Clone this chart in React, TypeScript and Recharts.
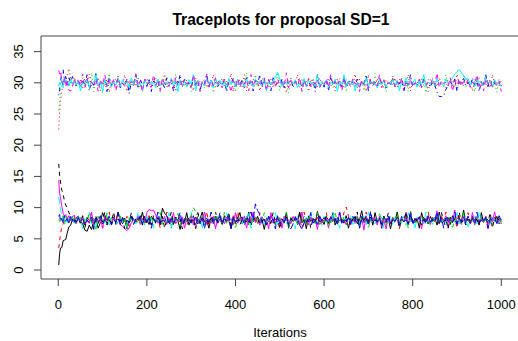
import React from 'react';
import { LineChart, Line, XAxis, YAxis, ReferenceArea } from 'recharts';

const iterations = [
  1, 3, 5, 8, 11, 14, 17, 20, 24, 28, 32, 36, 40,
  45, 50, 55, 60, 65, 70, 75, 80, 85, 90, 95, 100, 105, 110, 115, 120,
  125, 130, 135, 140, 145, 150, 155, 160, 165, 170, 175, 180, 185, 190, 195, 200,
  205, 210, 215, 220, 225, 230, 235, 240, 245, 250, 255, 260, 265, 270, 275, 280,
  285, 290, 295, 300, 305, 310, 315, 320, 325, 330, 335, 340, 345, 350, 355, 360,
  365, 370, 375, 380, 385, 390, 395, 400, 405, 410, 415, 420, 425, 430, 435, 440,
  445, 450, 455, 460, 465, 470, 475, 480, 485, 490, 495, 500, 505, 510, 515, 520,
  525, 530, 535, 540, 545, 550, 555, 560, 565, 570, 575, 580, 585, 590, 595, 600,
  605, 610, 615, 620, 625, 630, 635, 640, 645, 650, 655, 660, 665, 670, 675, 680,
  685, 690, 695, 700, 705, 710, 715, 720, 725, 730, 735, 740, 745, 750, 755, 760,
  765, 770, 775, 780, 785, 790, 795, 800, 805, 810, 815, 820, 825, 830, 835, 840,
  845, 850, 855, 860, 865, 870, 875, 880, 885, 890, 895, 900, 905, 910, 915, 920,
  925, 930, 935, 940, 945, 950, 955, 960, 965, 970, 975, 980, 985, 990, 995, 1000,
];

const chain1 = [
  0.8, 2.6, 3.5, 3.6, 4.7, 4.8, 4.9, 5.9, 6.9, 7.2, 8.1, 7.6, 8.3,
  8.6, 7.9, 7.4, 6.4, 6.2, 7.2, 6.5, 7.8, 8.4, 6.7, 7.6, 9.2, 8.2, 7.5, 8.0, 7.3,
  8.5, 7.7, 9.3, 8.1, 7.4, 8.3, 6.6, 7.9, 8.6, 8.2, 7.6, 8.4, 7.8, 9.3, 7.5, 8.1,
  7.3, 8.6, 8.0, 7.7, 8.4, 7.2, 9.9, 9.1, 8.7, 7.8, 8.2, 7.4, 8.5, 7.9, 6.5, 8.3,
  7.6, 9.2, 7.2, 8.1, 7.9, 8.5, 7.4, 8.2, 9.3, 7.7, 8.0, 6.7, 8.4, 7.8, 8.6, 7.5,
  8.2, 7.3, 8.7, 7.9, 8.1, 6.6, 8.5, 7.6, 8.3, 9.2, 7.4, 8.0, 7.7, 9.3, 7.2, 8.4,
  7.8, 8.6, 7.5, 8.1, 6.5, 8.3, 7.7, 8.7, 8.0, 7.3, 8.5, 7.9, 8.2, 7.6, 9.2, 6.7,
  8.4, 7.9, 8.1, 7.4, 9.3, 7.6, 8.2, 6.6, 8.6, 7.8, 8.3, 7.5, 9.4, 7.7, 8.1, 7.3,
  8.5, 8.0, 7.6, 9.2, 7.2, 8.4, 7.9, 8.2, 7.5, 8.7, 6.7, 8.3, 7.8, 8.6, 7.4, 8.0,
  9.5, 7.6, 8.3, 7.9, 8.5, 7.2, 9.2, 7.7, 8.1, 7.4, 8.6, 7.9, 8.2, 6.6, 8.4, 7.8,
  9.3, 7.5, 8.1, 7.7, 8.5, 7.3, 8.7, 8.0, 7.6, 8.3, 6.7, 9.2, 7.9, 8.2, 7.4, 8.6,
  7.8, 8.4, 7.2, 9.3, 7.6, 8.1, 7.9, 8.5, 7.3, 8.7, 8.0, 7.5, 8.3, 7.8, 9.6, 7.6,
  8.2, 7.4, 8.6, 7.9, 8.1, 7.2, 9.2, 7.7, 8.4, 8.0, 7.5, 8.3, 7.8, 8.6, 7.4, 8.1,
];
const chain2 = [
  3.5, 4.6, 5.8, 6.9, 7.4, 8.2, 7.8, 8.5, 7.6, 8.3, 7.9, 8.7, 7.4,
  8.1, 7.7, 8.6, 7.2, 8.4, 7.9, 9.2, 7.3, 8.0, 7.6, 8.5, 6.7, 8.2, 7.8, 9.3, 7.5,
  8.3, 7.8, 9.3, 7.4, 8.2, 7.7, 8.6, 6.6, 8.4, 7.9, 8.1, 7.5, 8.7, 7.2, 8.3, 7.6,
  8.7, 7.3, 8.2, 7.8, 8.5, 6.7, 8.0, 7.6, 9.3, 7.4, 8.3, 7.9, 8.1, 7.7, 8.6, 7.2,
  8.6, 7.2, 8.1, 7.7, 8.4, 6.6, 9.2, 7.5, 8.2, 7.9, 9.4, 7.3, 8.0, 7.6, 8.5, 7.8,
  8.0, 7.6, 8.5, 7.8, 8.3, 6.7, 8.7, 7.4, 9.4, 7.9, 8.2, 7.6, 8.4, 7.3, 9.2, 7.7,
  8.4, 7.2, 9.2, 7.7, 8.1, 7.5, 8.6, 7.3, 8.0, 7.8, 8.5, 6.7, 8.3, 7.9, 8.2, 7.4,
  8.3, 7.9, 8.6, 7.4, 8.2, 6.6, 9.3, 7.6, 8.4, 7.7, 8.1, 7.5, 8.7, 7.2, 8.0, 7.8,
  9.2, 7.2, 8.5, 7.9, 8.1, 7.4, 8.2, 7.8, 9.2, 10.1, 8.6, 7.3, 8.0, 7.7, 8.4, 7.5,
  8.2, 7.6, 9.3, 7.3, 8.4, 7.8, 8.0, 7.5, 8.6, 6.7, 8.3, 7.9, 8.7, 7.4, 8.1, 7.7,
  8.5, 6.6, 8.2, 7.8, 9.2, 7.4, 8.3, 7.6, 8.0, 7.9, 8.6, 7.2, 8.4, 7.7, 9.3, 7.5,
  8.1, 7.8, 8.5, 7.3, 8.7, 7.6, 9.3, 7.4, 8.2, 7.9, 8.4, 6.7, 8.6, 7.7, 8.0, 7.5,
  9.2, 7.2, 8.5, 7.9, 8.3, 7.4, 8.2, 7.8, 8.6, 7.3, 8.0, 7.7, 8.4, 7.6, 8.1, 7.9,
];
const chain3 = [
  25.6, 27.2, 28.8, 29.6, 30.4, 29.8, 30.9, 29.4, 30.2, 31.0, 29.7, 30.5, 29.3,
  30.1, 29.5, 30.8, 29.2, 30.3, 29.8, 31.6, 28.6, 30.6, 29.6, 30.0, 28.4, 30.4, 29.7, 31.5, 29.3,
  30.4, 29.7, 31.3, 29.3, 30.2, 29.9, 30.7, 28.7, 30.5, 29.6, 31.5, 29.4, 30.0, 28.5, 30.6, 29.8,
  30.0, 29.8, 30.6, 29.2, 30.3, 28.5, 30.8, 29.5, 30.1, 29.7, 30.5, 29.3, 31.4, 29.6, 30.2, 29.4,
  30.7, 29.6, 30.2, 28.6, 31.3, 29.4, 30.4, 29.8, 30.0, 29.2, 30.6, 29.5, 30.3, 28.4, 30.8, 29.7,
  30.3, 29.9, 30.8, 28.7, 30.5, 29.7, 30.1, 28.5, 30.6, 29.4, 30.2, 29.8, 31.6, 29.5, 30.0, 29.3,
  31.3, 29.3, 30.4, 29.6, 30.0, 29.2, 30.7, 29.5, 30.3, 29.9, 31.4, 28.7, 30.5, 29.8, 30.2, 28.4,
  30.5, 29.7, 30.2, 29.4, 30.8, 28.6, 30.4, 29.8, 30.1, 29.3, 30.6, 29.6, 31.3, 29.2, 30.3, 29.5,
  30.0, 29.5, 31.3, 29.2, 30.3, 29.8, 30.7, 29.4, 30.2, 28.5, 30.5, 29.7, 30.1, 29.3, 30.8, 29.6,
  30.4, 28.7, 30.6, 29.8, 30.2, 29.5, 31.5, 29.3, 30.0, 29.7, 30.5, 28.6, 30.3, 29.6, 31.3, 29.4,
  30.2, 29.8, 30.7, 29.3, 30.4, 28.6, 30.8, 29.6, 30.1, 29.4, 30.5, 29.9, 30.3, 28.4, 30.6, 29.5,
  30.8, 29.2, 30.3, 29.7, 30.0, 29.4, 31.3, 29.5, 30.2, 29.8, 30.6, 28.7, 30.4, 29.6, 31.4, 29.3,
  30.1, 29.7, 30.5, 28.6, 30.7, 29.4, 30.2, 29.8, 31.3, 29.3, 30.4, 29.6, 30.0, 28.5, 30.6, 29.5,
];
const chain4 = [
  28.0, 28.9, 30.2, 31.5, 32.1, 30.4, 31.2, 29.6, 30.8, 29.9, 31.0, 30.3, 29.5,
  30.6, 29.3, 30.2, 29.8, 31.3, 28.7, 30.4, 29.6, 31.7, 29.4, 30.1, 29.7, 30.5, 28.6, 30.8, 29.5,
  30.3, 29.9, 30.6, 29.2, 30.0, 29.7, 30.4, 28.3, 30.2, 29.6, 31.3, 29.3, 30.5, 29.8, 30.1, 29.4,
  30.7, 28.6, 30.3, 29.9, 30.6, 29.5, 30.0, 29.2, 30.8, 29.7, 30.4, 28.7, 30.2, 29.8, 31.3, 29.3,
  30.6, 29.5, 30.0, 29.2, 30.8, 29.7, 30.4, 28.7, 30.2, 29.8, 31.3, 29.3, 30.5, 29.6, 30.1, 29.4,
  30.1, 29.6, 30.5, 28.6, 30.3, 29.9, 30.7, 29.4, 30.0, 29.5, 30.6, 29.2, 30.8, 29.7, 30.3, 28.7,
  30.4, 29.8, 31.3, 29.3, 30.2, 29.7, 30.5, 28.7, 30.8, 29.6, 30.0, 29.4, 30.6, 29.2, 30.3, 29.9,
  30.7, 29.2, 30.3, 29.8, 30.1, 29.5, 30.6, 29.4, 30.0, 29.7, 30.4, 28.6, 31.3, 29.6, 30.2, 29.3,
  30.5, 28.7, 30.8, 29.6, 30.3, 29.9, 30.0, 29.4, 30.7, 29.2, 30.4, 29.8, 30.1, 29.5, 30.6, 29.3,
  30.2, 29.7, 31.3, 28.7, 30.5, 29.6, 30.1, 29.3, 30.8, 29.9, 30.4, 29.2, 30.0, 29.7, 30.6, 29.4,
  30.3, 29.8, 30.7, 28.6, 30.2, 29.5, 31.3, 29.4, 30.1, 29.6, 30.5, 29.2, 30.8, 29.7, 30.0, 29.3,
  30.4, 29.6, 28.5, 27.8, 27.8, 27.9, 28.9, 29.7, 30.3, 29.4, 30.6, 28.7, 30.2, 29.8, 30.7, 29.5,
  30.1, 29.3, 30.8, 29.6, 30.4, 28.6, 30.2, 29.7, 31.3, 29.4, 30.5, 29.2, 30.3, 29.8, 30.0, 29.5,
];
const chain5 = [
  11.7, 10.9, 9.6, 9.0, 8.4, 7.8, 8.6, 7.5, 8.2, 7.9, 8.7, 7.3, 8.1,
  7.6, 8.5, 6.6, 8.3, 7.8, 9.3, 7.4, 8.0, 6.5, 8.6, 7.7, 8.2, 7.5, 9.2, 7.2, 8.4,
  7.9, 8.1, 7.3, 8.7, 7.6, 8.3, 6.6, 8.5, 7.8, 8.2, 7.4, 9.3, 7.7, 8.0, 7.2, 8.6,
  7.9, 8.4, 6.7, 8.3, 7.6, 8.7, 7.3, 8.1, 7.8, 9.2, 6.6, 8.4, 7.5, 8.2, 7.9, 8.6,
  7.2, 8.3, 7.7, 9.3, 7.4, 8.1, 7.6, 8.5, 6.6, 8.7, 7.8, 8.2, 7.5, 8.4, 6.7, 8.6,
  7.9, 8.0, 7.3, 9.2, 7.6, 8.3, 7.2, 8.5, 7.8, 8.1, 7.4, 8.7, 7.7, 9.3, 6.7, 8.4,
  7.6, 8.2, 7.9, 8.6, 7.3, 8.5, 7.8, 8.0, 7.5, 9.2, 7.2, 8.3, 7.7, 8.6, 7.4, 8.1,
  7.8, 8.4, 6.6, 8.7, 7.6, 8.2, 7.9, 8.5, 7.3, 9.3, 7.5, 8.1, 7.8, 8.3, 7.2, 8.6,
  7.7, 8.0, 7.4, 9.2, 7.6, 8.2, 6.7, 8.5, 7.9, 8.3, 7.5, 8.7, 7.3, 8.1, 7.8, 8.4,
  7.5, 8.6, 7.2, 9.3, 7.7, 8.0, 7.4, 8.3, 7.9, 8.5, 6.7, 8.2, 7.6, 8.7, 7.3, 8.4,
  7.8, 8.1, 7.5, 8.6, 7.2, 9.2, 7.7, 8.3, 6.6, 8.5, 7.9, 8.2, 7.4, 9.3, 7.6, 8.0,
  7.3, 8.4, 7.8, 8.7, 7.5, 8.1, 7.2, 8.6, 7.9, 8.3, 7.6, 9.2, 7.4, 8.0, 7.7, 8.5,
  6.7, 8.2, 7.8, 8.6, 7.4, 9.3, 7.6, 8.3, 7.9, 8.0, 7.3, 8.5, 7.7, 8.1, 7.5, 8.4,
];
const chain6 = [
  14.4, 12.3, 11.6, 10.2, 9.1, 8.6, 8.9, 8.1, 8.7, 7.9, 8.5, 8.8, 7.6,
  8.3, 7.8, 8.6, 7.2, 8.0, 7.5, 9.3, 7.4, 8.2, 7.7, 8.4, 6.7, 8.6, 7.9, 8.1, 7.5,
  8.4, 7.9, 8.2, 7.3, 7.0, 6.6, 6.3, 6.8, 7.5, 8.1, 7.8, 8.6, 7.3, 8.3, 7.6, 9.2,
  9.7, 9.5, 9.6, 8.8, 7.5, 8.1, 7.8, 8.6, 7.3, 8.3, 7.6, 9.2, 7.4, 8.0, 7.7, 8.5,
  6.7, 8.3, 7.9, 8.7, 7.2, 8.4, 7.6, 8.1, 7.8, 9.3, 7.3, 8.2, 7.5, 8.6, 6.6, 8.4,
  7.9, 8.0, 7.4, 8.5, 7.8, 8.2, 7.3, 9.2, 7.5, 8.4, 7.9, 8.6, 6.7, 8.3, 7.7, 9.3,
  7.6, 8.3, 7.2, 8.5, 7.8, 8.1, 6.6, 9.2, 7.5, 8.2, 7.7, 8.4, 6.7, 8.6, 7.9, 8.0,
  7.4, 8.6, 7.9, 8.3, 7.4, 9.3, 7.6, 8.0, 7.3, 8.5, 7.8, 8.2, 6.5, 8.7, 7.5, 8.1,
  8.4, 6.7, 8.6, 7.9, 8.3, 7.4, 9.3, 7.6, 8.0, 7.3, 8.5, 7.8, 8.2, 7.5, 8.7, 7.2,
  8.2, 6.4, 8.7, 7.5, 8.1, 7.9, 8.4, 7.2, 8.6, 7.7, 8.0, 6.6, 8.5, 7.4, 8.3, 7.8,
  8.6, 7.3, 8.1, 7.7, 9.3, 7.2, 8.4, 7.6, 8.2, 7.9, 8.5, 6.6, 8.3, 7.8, 8.7, 7.4,
  8.5, 7.8, 9.5, 7.4, 8.2, 7.9, 8.7, 6.7, 8.4, 7.6, 9.6, 7.5, 8.0, 7.3, 8.6, 7.7,
  8.1, 7.5, 9.2, 7.2, 8.4, 7.9, 8.3, 7.6, 8.6, 6.6, 8.2, 7.8, 9.3, 7.4, 8.0, 7.6,
];
const chain7 = [
  17.0, 15.2, 14.1, 12.8, 12.2, 11.0, 10.4, 9.9, 9.2, 8.6, 8.0, 8.4, 7.7,
  8.2, 7.5, 8.7, 6.7, 8.4, 7.8, 8.0, 6.5, 8.6, 7.4, 8.3, 7.7, 9.3, 7.2, 8.1, 7.6,
  9.3, 7.3, 8.1, 7.9, 8.5, 6.6, 8.2, 7.6, 9.2, 7.4, 8.0, 7.8, 8.4, 7.2, 8.7, 7.5,
  8.4, 7.2, 8.7, 7.5, 8.3, 7.9, 8.6, 6.7, 8.1, 7.7, 9.3, 7.3, 8.5, 7.8, 8.2, 6.6,
  8.0, 7.6, 8.5, 7.8, 8.2, 6.6, 9.2, 7.4, 8.3, 7.9, 8.1, 7.2, 8.6, 7.5, 9.3, 7.7,
  8.6, 7.5, 8.4, 7.7, 9.3, 6.7, 8.2, 7.8, 8.5, 7.3, 8.0, 7.6, 8.7, 7.4, 8.3, 7.9,
  8.7, 7.4, 8.3, 7.9, 8.1, 7.2, 8.6, 7.5, 9.2, 7.7, 8.4, 6.6, 8.2, 7.6, 8.5, 7.3,
  8.2, 7.8, 8.5, 7.3, 9.3, 7.6, 8.0, 7.4, 8.7, 6.7, 8.3, 7.9, 8.6, 7.5, 8.1, 7.8,
  8.6, 7.5, 8.1, 7.8, 8.4, 7.2, 9.2, 7.6, 8.0, 7.9, 8.5, 7.4, 8.2, 7.7, 9.3, 6.7,
  8.3, 7.9, 8.7, 7.2, 9.4, 7.5, 8.4, 7.8, 8.1, 7.3, 8.6, 7.6, 9.2, 7.4, 8.0, 7.9,
  8.5, 6.7, 8.2, 7.7, 9.3, 7.4, 9.5, 7.6, 8.3, 7.8, 8.0, 7.2, 8.7, 7.5, 8.4, 7.9,
  8.1, 7.6, 8.6, 7.3, 9.2, 7.8, 8.2, 6.6, 8.5, 7.7, 8.3, 7.4, 9.3, 7.6, 8.0, 7.2,
  8.7, 7.5, 8.4, 7.8, 8.1, 7.3, 8.6, 7.9, 8.2, 7.6, 9.2, 6.7, 8.5, 7.7, 8.3, 7.4,
];
const chain8 = [
  22.5, 25.4, 27.0, 28.6, 29.9, 30.5, 29.8, 31.4, 32.3, 30.6, 29.5, 30.9, 30.1,
  29.6, 30.4, 29.2, 30.7, 29.9, 31.4, 29.4, 30.3, 29.7, 30.8, 28.7, 30.2, 29.5, 30.6, 28.5, 30.4,
  29.8, 30.6, 29.3, 30.1, 29.6, 31.3, 28.6, 30.5, 29.7, 30.3, 29.4, 30.8, 29.2, 30.0, 29.9, 30.7,
  29.5, 30.2, 29.9, 30.7, 29.2, 30.4, 29.6, 31.4, 29.3, 30.1, 29.8, 30.6, 28.6, 30.5, 29.7, 30.3,
  29.4, 30.5, 29.7, 30.0, 28.7, 30.8, 29.5, 30.3, 29.9, 30.6, 29.2, 30.1, 29.6, 31.3, 29.3, 30.4,
  29.8, 30.7, 29.3, 30.4, 29.6, 31.5, 28.6, 30.2, 29.7, 30.5, 29.4, 31.3, 28.7, 30.3, 29.8, 30.6,
  29.6, 30.3, 28.7, 30.8, 29.8, 30.0, 29.4, 30.6, 29.2, 30.4, 29.9, 30.7, 29.5, 30.1, 28.4, 30.5,
  29.5, 30.1, 29.7, 31.3, 29.3, 30.5, 29.8, 30.2, 28.6, 30.6, 29.6, 30.3, 29.4, 30.8, 29.9, 30.0,
  29.9, 30.8, 29.4, 30.4, 28.7, 30.7, 29.6, 30.0, 29.3, 30.5, 29.8, 30.2, 29.5, 31.4, 29.2, 30.6,
  29.7, 30.3, 28.6, 31.3, 29.6, 30.1, 29.4, 30.7, 29.8, 30.4, 29.2, 30.5, 29.9, 30.2, 29.5, 30.8,
  29.3, 30.6, 29.8, 30.0, 29.5, 31.3, 28.7, 30.4, 29.7, 30.2, 29.4, 30.7, 29.6, 30.3, 28.6, 30.5,
  29.8, 30.2, 29.4, 30.8, 29.6, 30.1, 29.2, 30.6, 29.9, 30.4, 29.3, 31.4, 29.7, 30.0, 29.5, 30.7,
  29.9, 30.3, 28.7, 30.6, 29.7, 30.8, 29.4, 30.2, 29.6, 30.5, 29.2, 31.3, 29.8, 30.1, 29.5, 30.4,
];
const chain9 = [
  8.1, 7.6, 8.4, 7.9, 8.7, 7.3, 8.2, 8.8, 7.5, 8.0, 8.6, 7.7, 8.3,
  7.9, 8.5, 7.2, 8.1, 7.6, 9.2, 7.4, 8.3, 6.6, 8.6, 7.8, 8.2, 7.5, 9.3, 7.3, 8.4,
  7.7, 8.0, 7.4, 8.6, 7.9, 8.3, 6.7, 8.5, 7.6, 8.2, 7.8, 8.7, 7.3, 8.1, 7.5, 8.4,
  7.8, 8.6, 7.2, 8.0, 7.9, 9.2, 7.4, 8.3, 7.6, 8.5, 6.7, 8.2, 7.7, 9.3, 7.3, 8.1,
  7.6, 8.4, 7.9, 8.7, 10.0, 9.4, 8.2, 7.5, 8.6, 7.2, 8.3, 7.8, 8.0, 7.4, 9.2, 7.7,
  8.1, 7.5, 9.3, 7.3, 8.4, 7.7, 8.2, 6.6, 8.6, 7.9, 8.0, 7.6, 8.5, 7.2, 8.3, 7.8,
  8.7, 7.4, 8.1, 7.6, 9.2, 7.2, 8.4, 7.9, 8.0, 7.3, 8.6, 7.7, 8.2, 7.5, 9.3, 6.7,
  8.3, 7.8, 8.5, 7.4, 8.1, 7.6, 8.7, 7.2, 8.4, 7.9, 8.0, 7.5, 9.2, 7.3, 8.2, 7.7,
  8.6, 6.7, 8.3, 7.8, 9.3, 7.4, 8.1, 7.6, 8.5, 7.2, 8.0, 7.9, 8.4, 7.5, 8.7, 7.3,
  8.2, 7.7, 8.6, 6.6, 8.3, 7.8, 8.1, 7.4, 9.2, 7.6, 8.4, 7.2, 8.0, 7.9, 8.5, 7.5,
  9.3, 7.3, 8.2, 7.7, 8.5, 6.7, 8.4, 7.8, 8.0, 7.6, 8.7, 7.4, 8.3, 7.9, 8.1, 7.2,
  8.4, 7.6, 9.2, 7.5, 8.1, 7.9, 8.6, 7.3, 8.3, 6.6, 8.5, 7.7, 8.2, 7.4, 9.3, 7.8,
  8.0, 7.5, 8.6, 7.2, 8.4, 7.8, 8.2, 7.6, 8.7, 7.3, 8.1, 7.9, 8.5, 7.4, 8.3, 7.7,
];
const chain10 = [
  8.6, 8.9, 7.8, 8.3, 7.5, 8.7, 7.9, 8.2, 7.4, 8.6, 7.8, 8.1, 7.5,
  8.4, 7.7, 8.2, 7.3, 8.0, 7.6, 8.5, 6.7, 8.3, 7.9, 8.7, 7.4, 8.1, 7.8, 8.6, 7.2,
  8.1, 7.6, 9.2, 7.2, 8.4, 7.8, 8.0, 7.5, 8.6, 7.3, 8.2, 7.9, 8.7, 7.4, 8.3, 7.7,
  8.5, 6.7, 8.3, 7.7, 9.3, 7.4, 8.0, 7.8, 8.6, 7.2, 8.4, 7.6, 8.1, 7.9, 9.2, 7.3,
  8.2, 7.9, 8.0, 7.5, 8.7, 7.3, 8.1, 7.5, 8.5, 6.6, 8.3, 7.7, 9.3, 7.4, 8.2, 7.6,
  9.2, 7.4, 8.2, 7.8, 8.6, 6.7, 8.4, 7.6, 8.0, 7.9, 8.5, 7.2, 8.3, 7.7, 9.3, 8.1,
  10.6, 9.5, 8.9, 7.5, 8.1, 7.3, 8.6, 7.8, 8.2, 6.6, 8.7, 7.4, 8.0, 7.6, 8.5, 7.2,
  6.6, 7.4, 8.5, 7.9, 7.2, 6.5, 7.6, 8.3, 7.7, 9.2, 7.5, 8.1, 7.3, 8.6, 7.9, 8.4,
  8.0, 7.6, 8.5, 7.9, 8.3, 7.2, 9.2, 7.5, 8.1, 7.7, 8.4, 7.3, 8.6, 7.8, 8.2, 6.7,
  8.6, 7.8, 8.2, 7.4, 9.3, 7.6, 8.0, 7.7, 8.4, 6.7, 8.3, 7.9, 8.7, 7.5, 8.1, 7.8,
  8.3, 7.2, 8.6, 7.8, 8.0, 7.5, 9.2, 7.3, 8.2, 7.9, 8.5, 7.6, 8.1, 7.4, 8.7, 7.7,
  8.2, 7.9, 9.3, 7.5, 8.4, 6.7, 8.6, 7.8, 8.0, 7.6, 9.3, 7.3, 8.3, 7.7, 8.5, 7.4,
  8.6, 7.8, 8.2, 7.4, 9.3, 7.6, 8.0, 7.7, 8.4, 6.7, 8.3, 7.9, 8.1, 7.5, 8.7, 7.9,
];
const chain11 = [
  29.4, 30.1, 29.7, 30.5, 29.2, 30.8, 29.9, 30.3, 29.5, 30.6, 29.8, 30.2, 29.6,
  30.4, 28.7, 30.0, 29.7, 30.6, 29.3, 30.2, 29.8, 31.3, 29.5, 30.3, 28.6, 30.5, 29.6, 30.1, 29.4,
  30.1, 29.6, 30.7, 29.4, 30.5, 29.9, 30.2, 29.3, 30.8, 29.7, 30.4, 29.5, 30.0, 28.8, 30.6, 29.8,
  30.3, 29.8, 30.0, 29.2, 30.6, 29.5, 30.4, 29.9, 30.1, 29.4, 30.7, 29.6, 30.2, 28.6, 30.5, 29.7,
  30.2, 29.3, 30.5, 29.8, 31.3, 28.7, 30.3, 29.7, 30.0, 29.5, 30.6, 29.9, 30.4, 29.2, 30.8, 29.6,
  30.4, 29.6, 30.1, 29.2, 30.7, 29.8, 30.3, 29.4, 30.5, 29.7, 30.0, 29.3, 30.6, 29.9, 30.2, 29.5,
  30.6, 29.9, 30.2, 29.5, 30.8, 28.7, 30.4, 29.7, 30.1, 30.9, 31.7, 30.6, 29.4, 30.3, 29.8, 30.0,
  30.3, 29.8, 30.5, 29.2, 30.0, 29.6, 30.7, 29.3, 30.4, 29.9, 30.1, 29.5, 31.2, 29.4, 30.2, 29.7,
  30.5, 29.3, 30.1, 29.8, 30.6, 28.6, 30.3, 29.6, 31.3, 29.4, 30.2, 29.7, 30.4, 28.7, 30.0, 29.8,
  30.2, 29.6, 30.8, 29.4, 30.3, 29.9, 30.0, 29.2, 30.6, 29.7, 30.5, 29.3, 30.1, 29.8, 30.7, 29.5,
  30.4, 28.7, 30.2, 29.7, 30.8, 29.5, 30.0, 29.9, 30.6, 29.3, 30.3, 29.6, 31.3, 29.4, 30.1, 29.8,
  30.3, 29.5, 30.7, 29.8, 30.1, 29.4, 30.6, 29.9, 30.2, 30.8, 31.4, 31.8, 32.1, 31.6, 31.2, 30.5,
  30.7, 29.6, 30.2, 29.4, 30.8, 29.8, 30.3, 29.5, 30.6, 29.9, 30.1, 29.3, 30.5, 29.7, 30.0, 29.4,
];
const chain12 = [
  32.0, 31.4, 31.8, 30.2, 29.6, 30.9, 29.3, 30.5, 28.8, 28.7, 29.4, 30.6, 29.8,
  30.3, 29.5, 31.4, 29.2, 30.6, 29.8, 30.1, 29.4, 30.7, 28.6, 30.4, 29.6, 31.3, 29.3, 30.2, 29.7,
  30.5, 28.7, 30.8, 29.6, 30.0, 29.4, 30.6, 29.9, 30.1, 29.7, 31.4, 29.5, 30.3, 28.6, 30.6, 29.8,
  30.2, 29.3, 31.3, 29.6, 30.4, 28.7, 30.7, 29.9, 30.0, 29.4, 30.5, 29.2, 30.8, 29.7, 30.3, 29.5,
  30.6, 29.8, 30.1, 29.3, 31.3, 29.6, 30.4, 28.6, 30.2, 29.7, 31.4, 29.4, 30.3, 29.5, 30.8, 29.9,
  30.1, 29.2, 30.6, 29.7, 30.0, 28.5, 30.4, 29.6, 30.7, 29.3, 30.2, 29.8, 30.5, 28.7, 31.3, 29.5,
  30.3, 29.6, 30.0, 29.4, 30.8, 28.7, 30.5, 29.8, 30.2, 29.3, 30.6, 29.7, 30.1, 29.5, 31.6, 29.2,
  30.4, 29.9, 30.2, 29.5, 30.8, 28.6, 30.3, 29.6, 30.7, 29.4, 30.1, 29.8, 30.5, 29.2, 30.0, 29.7,
  30.6, 29.3, 31.3, 29.7, 30.2, 29.5, 30.4, 28.7, 30.8, 29.6, 30.0, 29.4, 30.7, 29.8, 30.3, 28.6,
  30.5, 29.7, 30.1, 29.3, 30.6, 29.9, 30.2, 29.5, 31.3, 29.2, 30.4, 29.6, 30.0, 29.8, 30.7, 29.4,
  30.2, 29.5, 30.8, 28.7, 30.3, 29.7, 30.5, 29.4, 30.0, 29.9, 30.6, 29.2, 30.4, 29.6, 30.1, 29.8,
  30.6, 29.7, 31.6, 29.2, 30.4, 29.9, 30.1, 29.5, 30.8, 28.6, 30.3, 29.6, 30.7, 29.4, 30.2, 29.8,
  30.5, 29.3, 30.1, 29.7, 31.3, 29.5, 30.3, 28.7, 30.6, 29.8, 30.2, 29.4, 30.0, 29.6, 30.3, 28.6,
];

const chains = [chain1, chain2, chain3, chain4, chain5, chain6, chain7, chain8, chain9, chain10, chain11, chain12];

const xTicks = [0, 200, 400, 600, 800, 1000];
const yTicks = [0, 5, 10, 15, 20, 25, 30, 35];

// R matplot defaults: col 1:6, lty 1:5, cycled
const palette = ['#000000', '#FF0000', '#00CD00', '#0000FF', '#00FFFF', '#FF00FF'];
const dashes = [undefined, '4 4', '1 3', '1 3 4 3', '7 3'];

const data = iterations.map((it, i) => {
  const row: Record<string, number> = { it };
  chains.forEach((c, k) => {
    row['c' + k] = c[i];
  });
  return row;
});

const font = '"Liberation Sans", Arial, Helvetica, sans-serif';

const YTick = (props: any) => {
  const { y, payload } = props;
  return (
    <text
      x={23.5}
      y={y}
      transform={`rotate(-90, 23.5, ${y})`}
      textAnchor="middle"
      fontSize={13}
      fontFamily={font}
      fill="#000"
    >
      {payload.value}
    </text>
  );
};

const XTick = (props: any) => {
  const { x, payload } = props;
  return (
    <text x={x} y={308.5} textAnchor="middle" fontSize={13} fontFamily={font} fill="#000">
      {payload.value}
    </text>
  );
};

export default function App() {
  return (
    <div style={{ position: 'absolute', left: 0, top: 0, width: 518, height: 341, background: '#fff' }}>
      <LineChart width={518} height={341} data={data} margin={{ top: 36, right: -1, bottom: 0, left: 0 }}>
        <XAxis
          dataKey="it"
          type="number"
          domain={[-39, 1040]}
          ticks={xTicks}
          allowDataOverflow
          height={62}
          axisLine={false}
          tickLine={{ stroke: '#444' }}
          tickSize={7}
          tick={<XTick />}
          interval={0}
        />
        <YAxis
          type="number"
          domain={[-1.44, 37.5]}
          ticks={yTicks}
          allowDataOverflow
          width={41}
          axisLine={false}
          tickLine={{ stroke: '#444' }}
          tickSize={7}
          tick={<YTick />}
          interval={0}
        />
        {chains.map((_, k) => (
          <Line
            key={k}
            dataKey={'c' + k}
            type="linear"
            stroke={palette[k % 6]}
            strokeDasharray={dashes[k % 5]}
            strokeWidth={1}
            dot={false}
            activeDot={false}
            isAnimationActive={false}
          />
        ))}
        <ReferenceArea x1={-39} x2={1040} y1={-1.44} y2={37.5} fill="none" stroke="#444" strokeWidth={1} ifOverflow="visible" />
      </LineChart>
      <div
        style={{
          position: 'absolute',
          left: 0,
          width: 562,
          top: 11,
          textAlign: 'center',
          fontFamily: font,
          fontWeight: 'bold',
          fontSize: 15.6,
          color: '#000',
        }}
      >
        Traceplots for proposal SD=1
      </div>
      <div
        style={{
          position: 'absolute',
          left: 0,
          width: 560,
          top: 325,
          textAlign: 'center',
          fontFamily: font,
          fontSize: 13,
          color: '#000',
        }}
      >
        Iterations
      </div>
    </div>
  );
}
